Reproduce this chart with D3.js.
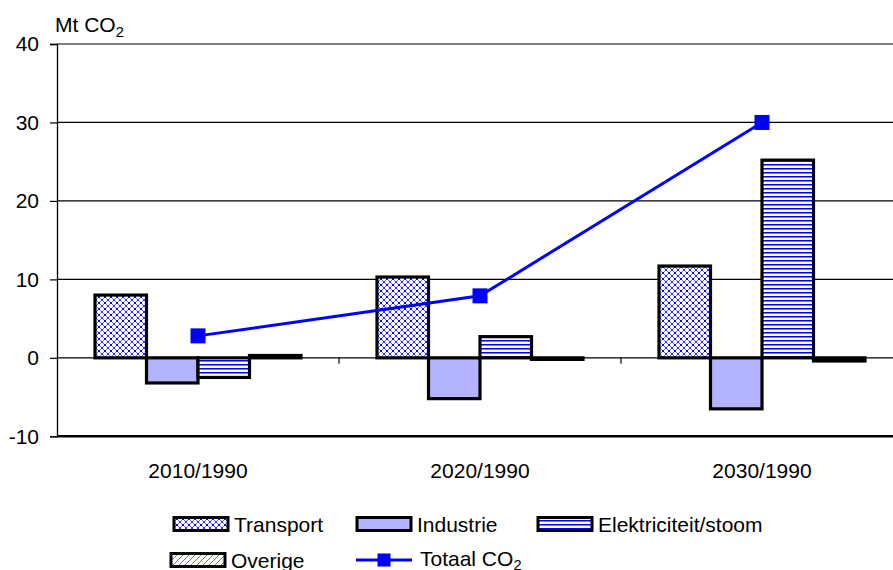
<!DOCTYPE html>
<html>
<head>
<meta charset="utf-8">
<script src="https://cdn.jsdelivr.net/npm/d3@7/dist/d3.min.js"></script>
<style>
  html, body { margin: 0; padding: 0; background: #fff; }
  svg { display: block; font-family: "Liberation Sans", Arial, Helvetica, sans-serif; }
  pattern rect { shape-rendering: crispEdges; }
</style>
</head>
<body>
<svg id="chart" width="893" height="570"></svg>
<script>
// CO2 emission change per sector relative to 1990 (Mt CO2)
const categories = ["2010/1990", "2020/1990", "2030/1990"];
const seriesNames = ["Transport", "Industrie", "Elektriciteit/stoom", "Overige"];
const transport = [8.0, 10.3, 11.7];
const industrie = [-3.2, -5.2, -6.5];
const elektriciteit = [-2.5, 2.7, 25.2];
const overige = [0.3, -0.2, -0.4];
const totaal = [2.8, 7.9, 30.0];
const yTicks = [-10, 0, 10, 20, 30, 40];

const seriesValues = [transport, industrie, elektriciteit, overige];

const svg = d3.select("#chart");
const FONT = 21;

const x = d3.scaleBand().domain(categories).range([57, 903]).paddingInner(0).paddingOuter(0);
const xs = d3.scaleBand().domain(seriesNames).range([0, x.bandwidth()]).paddingInner(0).paddingOuter(0.738);
const y = d3.scaleLinear().domain([-10, 40]).range([436.3, 44]);

// pixel-art fill patterns
const defs = svg.append("defs");
function pixelPattern(id, size, pixels) {
  const p = defs.append("pattern").attr("id", id)
    .attr("patternUnits", "userSpaceOnUse").attr("width", size[0]).attr("height", size[1]);
  p.append("rect").attr("width", size[0]).attr("height", size[1]).attr("fill", "#fff");
  pixels.forEach(([px, py, w, h, c]) => {
    p.append("rect").attr("x", px).attr("y", py).attr("width", w).attr("height", h).attr("fill", c);
  });
}
// cross-hatched lattice with dots
pixelPattern("pTransport", [6, 6], [
  [0, 0, 1, 1, "#3030ff"], [5, 0, 1, 1, "#3030ff"], [1, 1, 1, 1, "#6a6aff"], [4, 1, 1, 1, "#6a6aff"],
  [1, 4, 1, 1, "#6a6aff"], [4, 4, 1, 1, "#6a6aff"], [0, 5, 1, 1, "#3030ff"], [5, 5, 1, 1, "#3030ff"],
  [2, 2, 2, 2, "#0000ff"]
]);
// horizontal stripes
pixelPattern("pElek", [4, 4], [
  [0, 0, 4, 1, "#0000ff"], [0, 1, 4, 1, "#7a7aff"]
]);
// light diagonal hatching
pixelPattern("pOverige", [6, 6], [
  [5, 0, 1, 1, "#6464ff"], [4, 1, 1, 1, "#6464ff"], [3, 2, 1, 1, "#6464ff"],
  [2, 3, 1, 1, "#6464ff"], [1, 4, 1, 1, "#6464ff"], [0, 5, 1, 1, "#6464ff"]
]);

const fills = {
  "Transport": "url(#pTransport)",
  "Industrie": "#b3b3ff",
  "Elektriciteit/stoom": "url(#pElek)",
  "Overige": "url(#pOverige)"
};

// horizontal gridlines
svg.append("g").selectAll("line").data(yTicks.filter(d => d > 0)).join("line")
  .attr("x1", 57).attr("x2", 893)
  .attr("y1", d => y(d)).attr("y2", d => y(d))
  .attr("stroke", "#000").attr("stroke-width", 1.2);

// zero line with category separators
svg.append("line").attr("x1", 57).attr("x2", 893).attr("y1", y(0)).attr("y2", y(0))
  .attr("stroke", "#000").attr("stroke-width", 1.2);
svg.append("g").selectAll("line").data(categories.slice(1)).join("line")
  .attr("x1", d => x(d)).attr("x2", d => x(d))
  .attr("y1", y(0)).attr("y2", y(0) + 6)
  .attr("stroke", "#000").attr("stroke-width", 1.2);

// bars
const barData = [];
categories.forEach((c, ci) => {
  seriesNames.forEach((s, si) => barData.push({ cat: c, name: s, value: seriesValues[si][ci] }));
});
svg.append("g").selectAll("rect").data(barData).join("rect")
  .attr("x", d => x(d.cat) + xs(d.name))
  .attr("width", xs.bandwidth())
  .attr("y", d => y(Math.max(0, d.value)))
  .attr("height", d => Math.abs(y(d.value) - y(0)))
  .attr("fill", d => fills[d.name])
  .attr("stroke", "#000").attr("stroke-width", 3.2);

// bottom axis line at -10
svg.append("line").attr("x1", 57).attr("x2", 893).attr("y1", y(-10)).attr("y2", y(-10))
  .attr("stroke", "#000").attr("stroke-width", 2.6);

// y axis
const yAxis = svg.append("g").attr("transform", "translate(57,0)")
  .call(d3.axisLeft(y).tickValues(yTicks).tickSize(7).tickPadding(11).tickFormat(d => String(d)));
yAxis.select(".domain").attr("stroke", "#000").attr("stroke-width", 1.3);
yAxis.selectAll(".tick line").attr("stroke", "#000").attr("stroke-width", 1.2);
yAxis.selectAll(".tick text").attr("font-size", FONT).attr("fill", "#000")
  .attr("font-family", "'Liberation Sans', Arial, sans-serif");

// category labels
svg.append("g").selectAll("text").data(categories).join("text")
  .attr("x", d => x(d) + x.bandwidth() / 2).attr("y", 478)
  .attr("text-anchor", "middle").attr("font-size", FONT).attr("fill", "#000")
  .text(d => d);

// axis title
const title = svg.append("text").attr("x", 55).attr("y", 32).attr("font-size", FONT).attr("fill", "#000");
title.append("tspan").text("Mt CO");
title.append("tspan").attr("font-size", FONT * 0.7).attr("dy", 5).text("2");

// total line
const xc = d => x(d) + x.bandwidth() / 2;
const totData = categories.map((c, i) => ({ cat: c, value: totaal[i] }));
svg.append("path").datum(totData)
  .attr("d", d3.line().x(d => xc(d.cat)).y(d => y(d.value)))
  .attr("fill", "none").attr("stroke", "#0000ff").attr("stroke-width", 3);
svg.append("g").selectAll("rect").data(totData).join("rect")
  .attr("x", d => xc(d.cat) - 7.5).attr("y", d => y(d.value) - 7.5)
  .attr("width", 15).attr("height", 15).attr("fill", "#0000ff");

// legend
const legend = svg.append("g");
const legendItems = [
  { name: "Transport", sx: 174, cy: 524 },
  { name: "Industrie", sx: 357, cy: 524 },
  { name: "Elektriciteit/stoom", sx: 538, cy: 524 },
  { name: "Overige", sx: 171, cy: 560 }
];
legendItems.forEach(it => {
  legend.append("rect").attr("x", it.sx).attr("y", it.cy - 6.5).attr("width", 54).attr("height", 13)
    .attr("fill", fills[it.name]).attr("stroke", "#000").attr("stroke-width", 3);
  legend.append("text").attr("x", it.sx + 60).attr("y", it.cy + 7.5)
    .attr("font-size", FONT).attr("fill", "#000").text(it.name);
});
legend.append("line").attr("x1", 356).attr("x2", 412).attr("y1", 560).attr("y2", 560)
  .attr("stroke", "#0000ff").attr("stroke-width", 3);
legend.append("rect").attr("x", 384 - 6.5).attr("y", 560 - 6.5).attr("width", 13).attr("height", 13)
  .attr("fill", "#0000ff");
const tl = legend.append("text").attr("x", 420).attr("y", 566).attr("font-size", FONT).attr("fill", "#000");
tl.append("tspan").text("Totaal CO");
tl.append("tspan").attr("font-size", FONT * 0.7).attr("dy", 4).text("2");
</script>
</body>
</html>
